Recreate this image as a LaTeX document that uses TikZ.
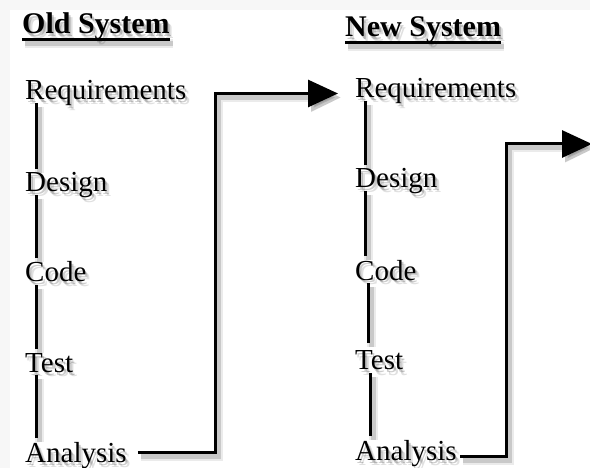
\documentclass[tikz,border=0pt]{standalone}
\usepackage{fontspec}
\setmainfont{Liberation Serif}
\usetikzlibrary{arrows.meta}
\tikzset{
  etape/.style={anchor=base west,inner sep=0pt,font=\fontsize{29}{32}\selectfont},
  titre/.style={anchor=base west,inner sep=0pt,font=\fontsize{30}{33}\selectfont\bfseries},
  ombre/.style={text=black,opacity=0.2},
  trait/.style={line width=3pt},
  fleche/.style={line width=3pt,-{Triangle[length=30pt,width=27pt]}},
  ombrage/.style={preaction={draw=black,opacity=0.08,line width=9pt,transform canvas={shift={(3pt,-4pt)}}},
    preaction={draw=black,opacity=0.14,line width=5pt,transform canvas={shift={(3pt,-4pt)}}}}
}
\begin{document}
\begin{tikzpicture}[x=1pt,y=-1pt]
	\useasboundingbox (0,0) rectangle (590,468);
	\fill[black!3] (0,0) rectangle (590,468);
	\fill[white] (10,10) rectangle (590,468); % le fond
	% les titres
	\node[titre,ombre,opacity=0.12] (old-o2) at (26,39) {Old System};
	\node[titre,ombre] (old-o1) at (24,37) {Old System};
	\node[titre] (old) at (22,34) {Old System};
	\node[titre,ombre,opacity=0.12] (new-o2) at (349,42) {New System};
	\node[titre,ombre] (new-o1) at (347,40) {New System};
	\node[titre] (new) at (345,37) {New System};
	\draw[line width=2.5pt,ombrage] ([yshift=-5.5pt]old.base west) -- ([yshift=-5.5pt]old.base east);
	\draw[line width=2.5pt,ombrage] ([yshift=-5.5pt]new.base west) -- ([yshift=-5.5pt]new.base east);
	% les etapes
	\foreach \nom/\x/\y/\texte in {oreq/25/100/Requirements, odes/25/192/Design, ocod/25/282/Code, otst/25/372/Test, oana/25/462/Analysis,
	    nreq/355/98/Requirements, ndes/355/188/Design, ncod/355/280/Code, ntst/355/370/Test, nana/355/460/Analysis}{
		\node[etape,ombre,opacity=0.12] (\nom-o2) at (\x+4,\y+5) {\texte};
		\node[etape,ombre] (\nom-o1) at (\x+2,\y+3) {\texte};
		\node[etape] (\nom) at (\x,\y) {\texte};
	}
	\foreach \a/\b/\dx/\dy in {oreq/odes/11/4, odes/ocod/11/4, ocod/otst/11/4, otst/oana/11/4,
	    nreq/ndes/10/4, ndes/ncod/10/4, ncod/ntst/13/8, ntst/nana/15/4}
		\draw[trait,ombrage] ([xshift=\dx pt,yshift=-3pt]\a.base west) -- ([xshift=\dx pt,yshift=\dy pt]\b.north west);
	% les fleches
	\coordinate (k1) at (215,93.5);
	\coordinate (k2) at (506,144);
	\coordinate (fin) at (592,144);
	\draw[fleche,ombrage] ([xshift=11pt,yshift=10pt]oana.base east) -| (k1) -- ([xshift=-17pt,yshift=4.5pt]nreq.base west);
	\draw[fleche,ombrage] ([xshift=3pt,yshift=4pt]nana.base east) -| (k2) -- (fin);
\end{tikzpicture}
\end{document}
